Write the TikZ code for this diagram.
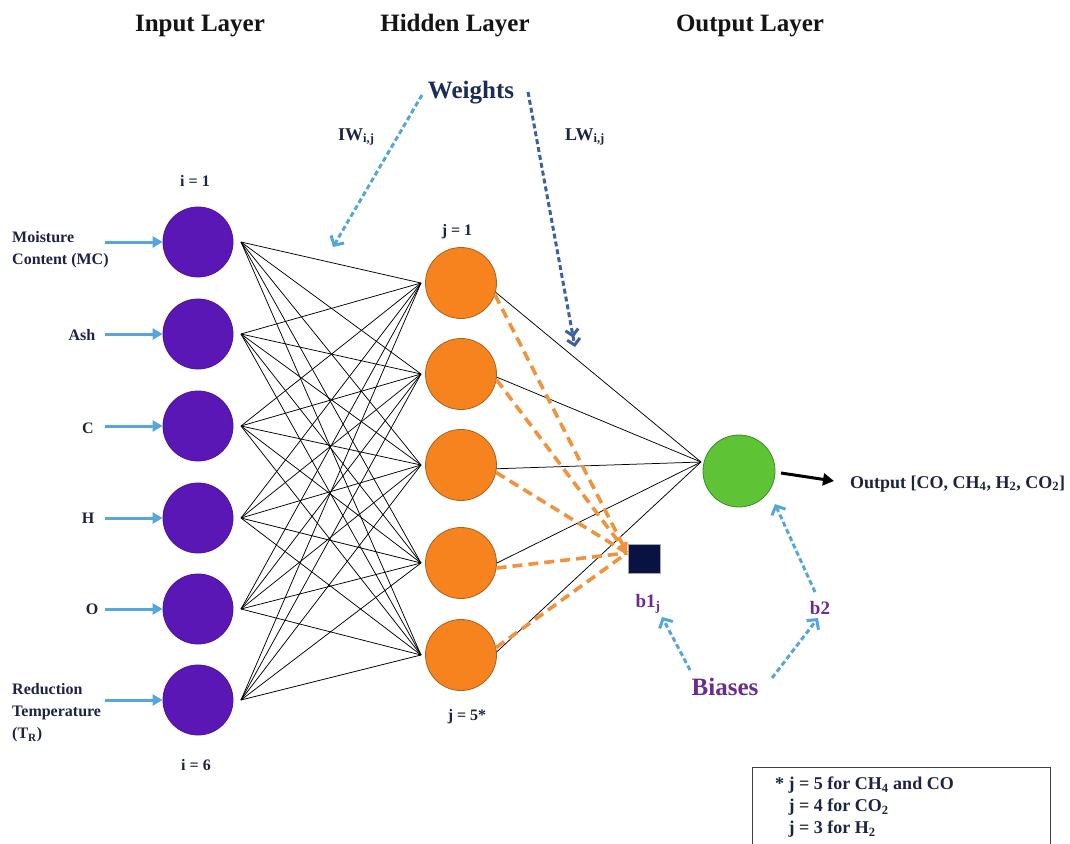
\documentclass[tikz,border=0pt]{standalone}
\usepackage{fontspec}
\setmainfont{Liberation Serif}
\usetikzlibrary{arrows.meta}
\definecolor{inpurple}{HTML}{5A17B6}
\definecolor{inpurpleb}{HTML}{4A1396}
\definecolor{hidorange}{HTML}{F7831F}
\definecolor{hidorangeb}{HTML}{A8611F}
\definecolor{outgreen}{HTML}{5EC436}
\definecolor{outgreenb}{HTML}{3D8A28}
\definecolor{navytext}{HTML}{1B2440}
\definecolor{wnavy}{HTML}{1D2B55}
\definecolor{biasnavy}{HTML}{0A1242}
\definecolor{purpletext}{HTML}{6A2C8E}
\definecolor{lightblue}{HTML}{55A6DA}
\definecolor{lwblue}{HTML}{3C60A8}
\definecolor{dashorange}{HTML}{F0933E}
\begin{document}
\begin{tikzpicture}[x=1pt,y=-1pt,
  innode/.style={circle, minimum size=70pt, inner sep=0pt, fill=inpurple, draw=inpurpleb, line width=0.8pt},
  hidnode/.style={circle, minimum size=71pt, inner sep=0pt, fill=hidorange, draw=hidorangeb, line width=0.8pt},
  outnode/.style={circle, minimum size=72pt, inner sep=0pt, fill=outgreen, draw=outgreenb, line width=0.8pt},
  ttl/.style={font=\fontsize{25}{30}\selectfont\bfseries, text=black!92, inner sep=0pt},
  lbl/.style={font=\fontsize{16}{22}\selectfont\bfseries, text=navytext, inner sep=0pt},
  mid/.style={font=\fontsize{18}{22}\selectfont\bfseries, text=navytext, inner sep=0pt},
  big/.style={font=\fontsize{25}{30}\selectfont\bfseries, inner sep=0pt},
  blbl/.style={font=\fontsize{19}{22}\selectfont\bfseries, text=purpletext, inner sep=0pt},
  conn/.style={line width=0.75pt, black},
  feed/.style={line width=3pt, lightblue, -{Triangle[length=10pt,width=11pt]}},
  wdash/.style={line width=3pt, dash pattern=on 5pt off 3pt, -{Straight Barb[length=7pt,width=15pt]}},
  odash/.style={line width=3.6pt, dashorange, dash pattern=on 10pt off 6pt},
  outarr/.style={line width=3pt, black, -{Triangle[length=11pt,width=12pt]}},
]
\useasboundingbox (0,0) rectangle (1070,843);

% titles
\node[ttl, anchor=base] (tin) at (200,32) {Input Layer};
\node[ttl, anchor=base] (thid) at (455,32) {Hidden Layer};
\node[ttl, anchor=base] (tout) at (750,32) {Output Layer};

% input nodes
\foreach \n/\y in {1/242,2/334,3/426,4/518,5/609,6/700} {
  \node[innode] (in\n) at (198,\y) {};
  \coordinate (ci\n) at (241,\y);
  \coordinate (fa\n) at (105,\y);
  \draw[feed] (fa\n) -- (in\n.west);
}
% hidden nodes
\foreach \n/\y in {1/283,2/374,3/465,4/563,5/655} {
  \node[hidnode] (h\n) at (461,\y) {};
  \coordinate (ch\n) at (421,\y);
}
% output node
\node[outnode] (o) at (739,471) {};
\coordinate (co) at (701,462);

% input -> hidden
\foreach \i in {1,...,6} {
  \foreach \j in {1,...,5} {
    \draw[conn] (ci\i) -- (ch\j);
  }
}
% hidden -> output
\draw[conn] (h1.-15) -- (co);
\draw[conn] (h2.-5) -- (co);
\draw[conn] (h3.-6) -- (co);
\draw[conn] (h4.0) -- (co);
\draw[conn] (h5.5) -- (co);

% bias square
\node[fill=biasnavy, draw=gray!70, line width=0.6pt, minimum width=32pt, minimum height=29pt, inner sep=0pt] (b1sq) at (644,559) {};
\coordinate (b1in) at (627,553);
\draw[odash, -{Triangle[length=10pt,width=11pt]}] (h1.-19) -- (b1in);
\draw[odash, -{Triangle[length=10pt,width=11pt]}] (h2.-9) -- (b1in);
\draw[odash] (h3.-12) -- (b1in);
\draw[odash] (h4.-8) -- (b1in);
\draw[odash] (h5.12) -- (b1in);

% labels of inputs
\node[lbl, anchor=west, align=left] (lmc) at (12,250) {Moisture\\Content (MC)};
\node[lbl, anchor=base] (lash) at (82,340) {Ash};
\node[lbl, anchor=base] (lc) at (88,433) {C};
\node[lbl, anchor=base] (lh) at (88,523) {H};
\node[lbl, anchor=base] (lo) at (92,614) {O};
\node[lbl, anchor=west, align=left] (ltr) at (12,713) {Reduction\\Temperature\\(T\textsubscript{R})};

\node[lbl, anchor=base] (li1) at (195,186) {i = 1};
\node[lbl, anchor=base] (li6) at (196,770) {i = 6};
\node[lbl, anchor=base] (lj1) at (457,235) {j = 1};
\node[lbl, anchor=base] (lj5) at (467,720) {j = 5*};

% weights
\node[big, text=wnavy, anchor=base] (wts) at (471,98) {Weights};
\node[mid, anchor=base west] (iw) at (338,140) {IW\textsubscript{i,j}};
\node[mid, anchor=base west] (lw) at (565,140) {LW\textsubscript{i,j}};
\coordinate (iws) at (422,95);
\coordinate (iwe) at (333,247);
\coordinate (lws) at (528,92);
\coordinate (lwe) at (575,347);
\draw[wdash, lightblue] (iws) -- (iwe);
\draw[line width=3pt, lwblue, dash pattern=on 5pt off 3pt, -{Straight Barb[length=6pt,width=13pt] Straight Barb[length=6pt,width=13pt]}] (lws) -- (lwe);

% output
\node[mid, anchor=base west] (olbl) at (850,488) {Output [CO, CH\textsubscript{4}, H\textsubscript{2}, CO\textsubscript{2}]};
\coordinate (oas) at (781,473);
\coordinate (oae) at (834,481);
\draw[outarr] (oas) -- (oae);

% biases
\node[blbl, anchor=base] (b1l) at (648,607) {b1\textsubscript{j}};
\node[blbl, anchor=base] (b2l) at (820,614) {b2};
\node[big, text=purpletext, anchor=base] (bias) at (725,695) {Biases};
\coordinate (ba1s) at (690,670);
\coordinate (ba1e) at (662,617);
\coordinate (ba2s) at (772,678);
\coordinate (ba2e) at (818,618);
\coordinate (b2s) at (815,592);
\coordinate (b2e) at (775,504);
\draw[wdash, lightblue] (ba1s) -- (ba1e);
\draw[wdash, lightblue] (ba2s) -- (ba2e);
\draw[wdash, lightblue] (b2s) -- (b2e);

% legend
\node[draw=black!75, line width=0.9pt, minimum width=298pt, minimum height=90pt, anchor=north west, inner sep=0pt] (legbox) at (752,767) {};
\node[mid, anchor=north west, align=left] (legtxt) at (775,777) {* j = 5 for CH\textsubscript{4} and CO\\\phantom{*} j = 4 for CO\textsubscript{2}\\\phantom{*} j = 3 for H\textsubscript{2}};
\end{tikzpicture}
\end{document}
